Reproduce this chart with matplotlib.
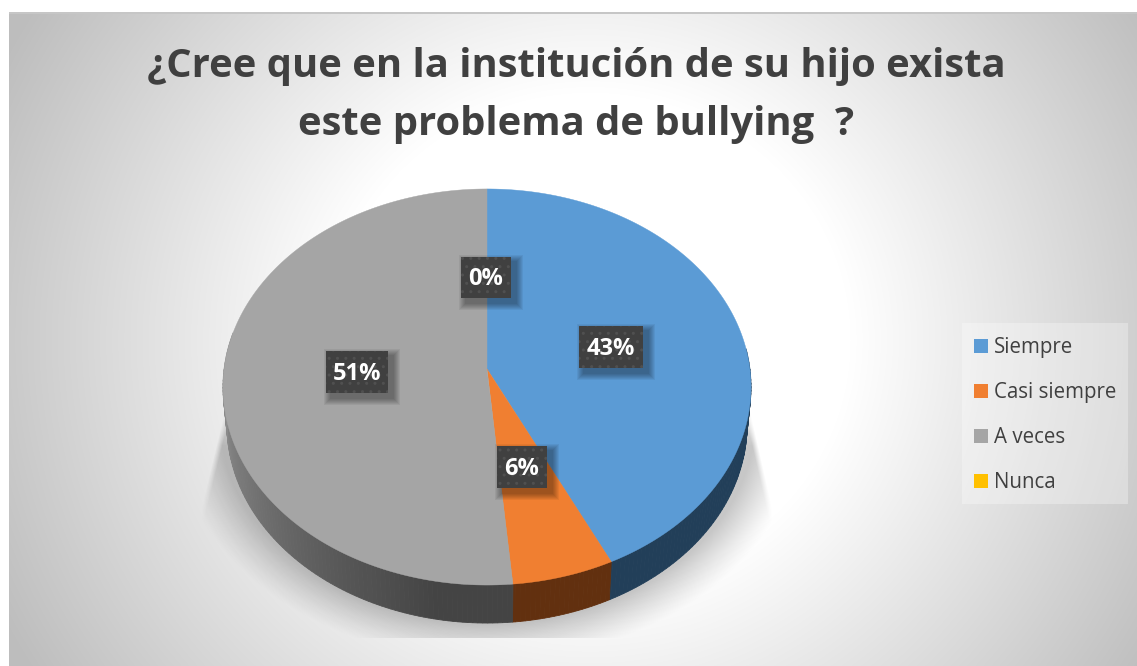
import numpy as np
import matplotlib
matplotlib.use("Agg")
import matplotlib.pyplot as plt
from matplotlib.patches import Patch, Rectangle

categories = ["Siempre", "Casi siempre", "A veces", "Nunca"]
counts = [15, 2, 18, 0]
colors = ["#5b9bd5", "#f07f31", "#a5a5a5", "#ffc000"]
side_colors = ["#223f59", "#62300f", "#444444", "#6b5000"]
title_lines = ["¿Cree que en la institución de su hijo exista", "este problema de bullying  ?"]

W, H = 1137, 666
cx, cy = 487, 369
R_x, R_y, k = 262.9, 196.4, 0.0909
depth = 38

plt.rcParams['font.family'] = ['Open Sans', 'DejaVu Sans']
plt.rcParams['hatch.linewidth'] = 1.0

fig = plt.figure(figsize=(W / 100, H / 100), dpi=100)
ax = fig.add_axes([0, 0, 1, 1])
ax.set_xlim(0, W)
ax.set_ylim(H, 0)
ax.axis('off')


def rim(theta, down=0.0, shrink=1.0):
    # theta in degrees, clockwise from the top of the pie
    t = np.radians(theta)
    u, v = np.sin(t), np.cos(t)
    w = 1 + k * v
    return cx + shrink * R_x * u / w, cy - R_y * v / w + down


# background
yy, xx = np.mgrid[0:H, 0:W]
dist = np.hypot(xx - 590, (yy - 340) * 1.05)
t = np.clip((dist - 260) / 400, 0, 1)
grey = (255 - 66 * t) / 255
bg = np.dstack([grey, grey, grey])
bg[:12, :] = 1
bg[:, :9] = 1
bg[12:14, 9:] = 0.78
ax.imshow(bg, extent=(0, W, H, 0), aspect='auto', zorder=0, interpolation='bilinear')
ax.set_xlim(0, W)
ax.set_ylim(H, 0)

# soft shadow under the pie
er = np.hypot((xx - cx) / 268, (yy - 418) / 206)
sh = 0.22 * np.clip(1 - (er - 1) * 200 / 36, 0, 1) ** 1.2
sh = sh * np.clip((yy - 395) / 50, 0, 1)
left_edge = 222 - (yy - 420) * 17 / 70
right_edge = 752 + (yy - 420) * 16 / 70
sh = sh * np.clip((xx - left_edge) / 6, 0, 1) * np.clip((right_edge - xx) / 6, 0, 1)
sh[yy >= 638] = 0
shadow = np.zeros((H, W, 4))
shadow[..., 3] = sh
ax.imshow(shadow, extent=(0, W, H, 0), aspect='auto', zorder=1, interpolation='bilinear')
ax.set_xlim(0, W)
ax.set_ylim(H, 0)

# pie angles from the counts
total = sum(counts)
edges = np.concatenate([[0], np.cumsum(counts) / total * 360])

# side wall
for i in range(len(counts)):
    start, stop = edges[i], edges[i + 1]
    if stop <= start:
        continue
    angles = np.arange(start, stop + 1, 1.0)
    angles = np.clip(angles, start, stop)
    for a0, a1 in zip(angles[:-1], angles[1:]):
        if a1 < 85 or a0 > 280:
            continue
        x0, y0 = rim(a0)
        x1, y1 = rim(a1)
        x2, y2 = rim(a1, depth, 0.985)
        x3, y3 = rim(a0, depth, 0.985)
        col = side_colors[i]
        if i == 2:
            g = np.clip((a0 - 190) / (270 - 190), 0, 1)
            val = 0x44 + (0x92 - 0x44) * g
            col = (val / 255, val / 255, val / 255)
        ax.fill([x0, x1, x2, x3], [y0, y1, y2, y3], color=col, lw=0.6, zorder=2)

# top face
for i in range(len(counts)):
    if edges[i + 1] <= edges[i]:
        continue
    theta = np.linspace(edges[i], edges[i + 1], 300)
    xs, ys = rim(theta)
    ax.fill(np.r_[cx, xs], np.r_[cy, ys], color=colors[i], lw=0.3, zorder=3)

# value labels: centre x, centre y, width, height
label_boxes = [(611, 347, 64, 42), (522, 467, 50, 42), (357, 372, 62, 42), (486, 277, 50, 41)]
for value, (bx, by, bw, bh) in zip(counts, label_boxes):
    for grow in range(7, 0, -1):
        ax.add_patch(Rectangle((bx - bw / 2 + 5 - grow, by - bh / 2 + 5 - grow), bw + 2 * grow, bh + 2 * grow,
                               facecolor='black', edgecolor='none', alpha=0.055, zorder=4))
    ax.add_patch(Rectangle((bx - bw / 2, by - bh / 2), bw, bh, facecolor='#404040', edgecolor='#505050',
                           hatch='..', lw=0, zorder=5))
    ax.text(bx, by + 2, "{:.0f}%".format(value / total * 100), color='white', fontsize=17, fontweight='bold',
            ha='center', va='center', zorder=6)

for line, y in zip(title_lines, [67, 125]):
    ax.text(576, y, line, color='#404040', fontsize=28.8, fontweight='bold', ha='center', va='center', zorder=6)

handles = [Patch(facecolor=c, edgecolor='none', label=n) for c, n in zip(colors, categories)]
ax.add_patch(Rectangle((962, 323), 166, 181, facecolor='white', edgecolor='none', alpha=0.3, zorder=6))
leg = ax.legend(handles=handles, loc='upper left', bbox_to_anchor=(974 / W, 1 - 337 / H), frameon=False,
                fontsize=14.8, labelcolor='#404040', handlelength=0.68, handleheight=0.68,
                handletextpad=0.3, labelspacing=1.17, borderpad=0, borderaxespad=0)
leg.set_zorder(7)

fig.savefig("out.png", dpi=100)
